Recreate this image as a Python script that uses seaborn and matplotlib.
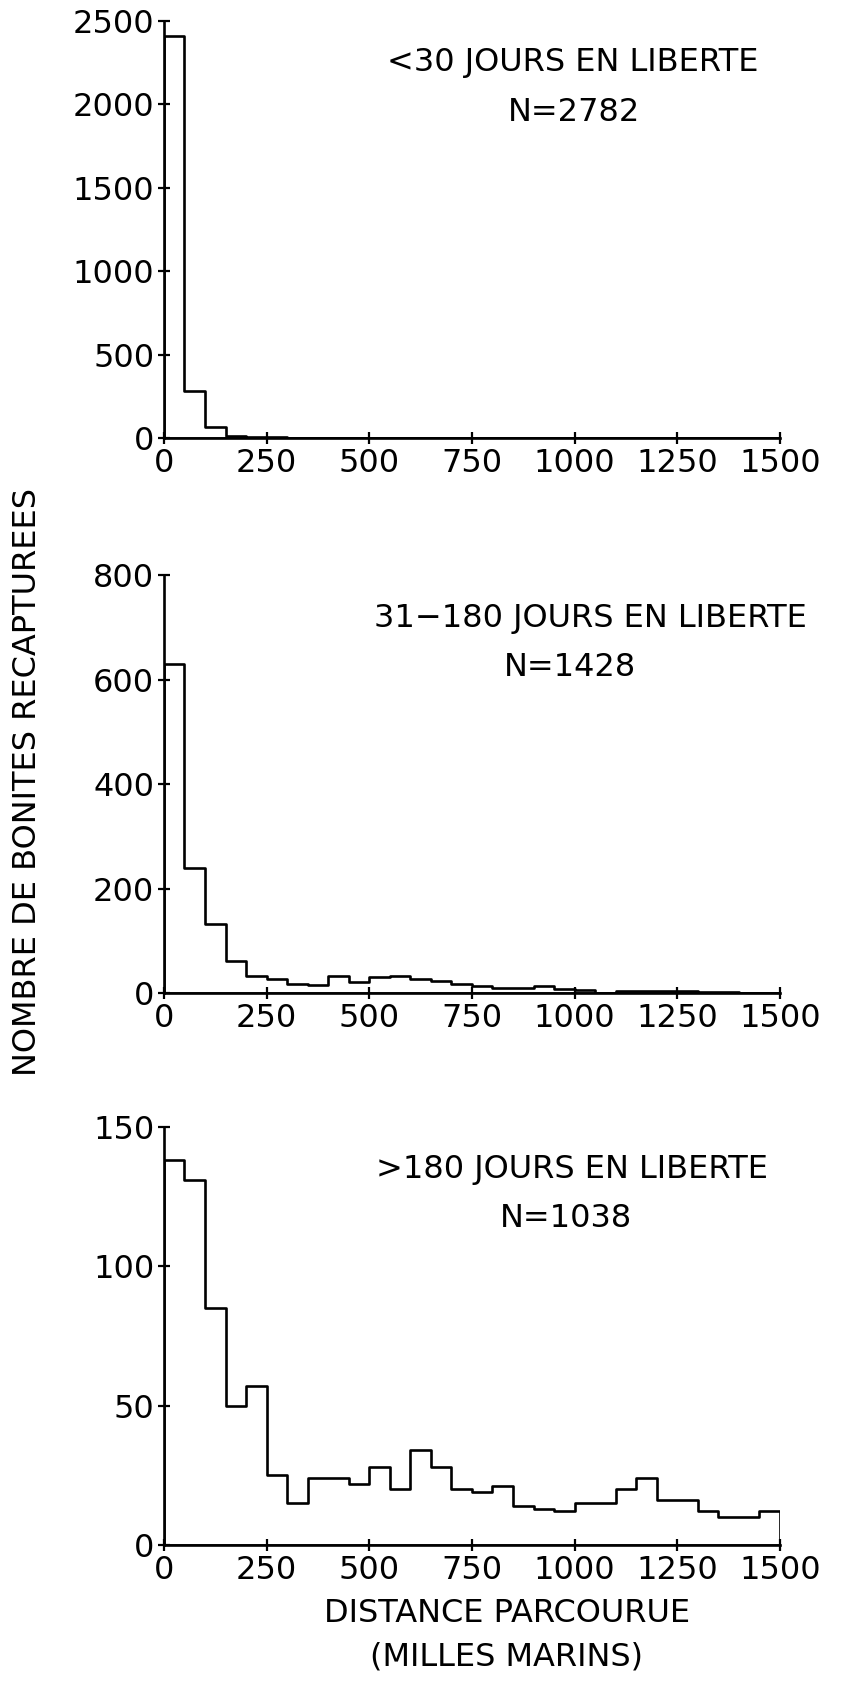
import numpy as np
import pandas as pd
import matplotlib
matplotlib.use("Agg")
import matplotlib.pyplot as plt
import seaborn as sns

# distance classes (milles marins), 50-mile bins from 0 to 1500
bin_start = [0, 50, 100, 150, 200, 250, 300, 350, 400, 450,
             500, 550, 600, 650, 700, 750, 800, 850, 900, 950,
             1000, 1050, 1100, 1150, 1200, 1250, 1300, 1350, 1400, 1450]

# counts per bin
n_lt30 = [2410, 280, 64, 10, 6, 3, 2, 1, 1, 1,
          0, 0, 0, 0, 0, 0, 0, 0, 0, 0,
          0, 0, 0, 0, 0, 0, 0, 0, 0, 0]
n_31_180 = [630, 239, 133, 61, 32, 27, 18, 15, 32, 22,
            30, 32, 26, 24, 18, 13, 10, 10, 13, 8,
            6, 1, 4, 4, 3, 3, 2, 2, 1, 1]
n_gt180 = [138, 131, 85, 50, 57, 25, 15, 24, 24, 22,
           28, 20, 34, 28, 20, 19, 21, 14, 13, 12,
           15, 15, 20, 24, 16, 16, 12, 10, 10, 12]

titles = ["<30 JOURS EN LIBERTE", "31\u2212180 JOURS EN LIBERTE", ">180 JOURS EN LIBERTE"]
n_labels = ["N=2782", "N=1428", "N=1038"]
y_max = [2500, 800, 150]
y_step = [500, 200, 50]
x_ticks = [0, 250, 500, 750, 1000, 1250, 1500]

sns.set_style("ticks")
plt.rcParams['font.family'] = ['DejaVu Sans']
plt.rcParams['text.color'] = 'black'
plt.rcParams['xtick.color'] = 'black'
plt.rcParams['ytick.color'] = 'black'
plt.rcParams['axes.edgecolor'] = 'black'
FS = 23

fig = plt.figure(figsize=(8.45, 16.82), dpi=100)
positions = [[0.194, 0.7396, 0.729, 0.248],
             [0.194, 0.4096, 0.729, 0.2485],
             [0.194, 0.0815, 0.729, 0.2485]]
title_pos = [(0.664, 0.90, 0.666, 0.78),
             (0.693, 0.897, 0.66, 0.78),
             (0.662, 0.897, 0.652, 0.78)]

edges = list(range(0, 1550, 50))
for i, counts in enumerate([n_lt30, n_31_180, n_gt180]):
    ax = fig.add_axes(positions[i])
    df = pd.DataFrame({"distance": [b + 25 for b in bin_start], "n": counts})
    sns.histplot(data=df, x="distance", weights="n", bins=edges, element="step",
                 fill=True, color="black", facecolor="none", edgecolor="black",
                 linewidth=1.9, ax=ax)
    ax.set_xlim(0, 1500)
    ax.set_ylim(0, y_max[i])
    ax.set_yticks(np.arange(0, y_max[i] + 1, y_step[i]))
    ax.set_xticks(x_ticks)
    ax.set_xlabel("")
    ax.set_ylabel("")
    sns.despine(ax=ax)
    for s in ["left", "bottom"]:
        ax.spines[s].set_linewidth(1.9)
    ax.tick_params(direction="inout", length=8, width=1.6, labelsize=FS, pad=3)
    tx, ty, nx, ny = title_pos[i]
    ax.text(tx, ty, titles[i], transform=ax.transAxes, ha="center", va="center", fontsize=FS)
    ax.text(nx, ny, n_labels[i], transform=ax.transAxes, ha="center", va="center", fontsize=FS)

fig.text(0.032, 0.535, "NOMBRE DE BONITES RECAPTUREES", rotation=90,
         ha="center", va="center", fontsize=FS)
fig.text(0.60, 1 - 1613 / 1682, "DISTANCE PARCOURUE", ha="center", va="center", fontsize=FS)
fig.text(0.60, 1 - 1657 / 1682, "(MILLES MARINS)", ha="center", va="center", fontsize=FS)

fig.savefig("out.png", dpi=100, facecolor="white")
